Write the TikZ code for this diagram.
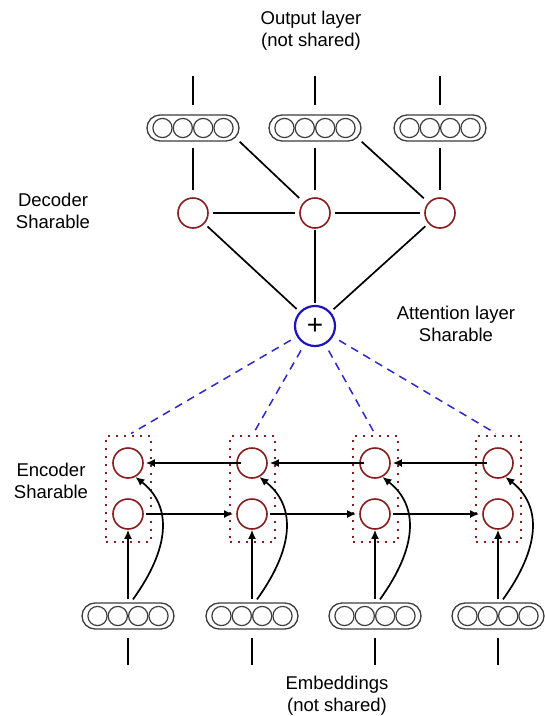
\documentclass[tikz,border=0pt]{standalone}
\usepackage{fontspec}
\setmainfont{Liberation Sans}
\usetikzlibrary{arrows.meta}
\definecolor{dred}{RGB}{135,30,30}
\definecolor{attblue}{RGB}{30,20,190}
\definecolor{dashblue}{RGB}{45,40,200}
\definecolor{vecgray}{RGB}{60,60,60}
\newcommand{\vecunits}[1]{%
  \foreach \dx in {-30.5,-10.2,10.2,30.5}{\draw[vecgray,line width=1.2pt] ([xshift=\dx pt]#1.center) circle[radius=9.6pt];}}
\begin{document}
\begin{tikzpicture}[x=1pt,y=-1pt,
  lbl/.style={align=center,font=\fontsize{18.5}{22}\selectfont},
  vecbox/.style={draw=vecgray,line width=1.3pt,rounded corners=13pt,minimum width=92pt,minimum height=26pt,inner sep=0pt},
  unit/.style={circle,draw=dred,line width=1.6pt,minimum size=30pt,inner sep=0pt},
  encbox/.style={draw=dred,line width=2pt,dash pattern=on 2pt off 6pt,minimum width=45pt,minimum height=106pt,inner sep=0pt},
  conn/.style={line width=1.7pt,shorten <=4pt,shorten >=4pt},
  arr/.style={line width=1.7pt,-{Latex[length=9pt,width=8pt]}},
  att/.style={circle,draw=attblue,line width=2.2pt,minimum size=40pt,inner sep=0pt,font=\fontsize{28}{28}\selectfont},
  dsh/.style={draw=dashblue,line width=1.5pt,dash pattern=on 8pt off 6pt,shorten <=7pt,shorten >=3pt}]
\useasboundingbox (0,0) rectangle (545,716);

% labels
\node[lbl] (lout) at (311,31) {Output layer\\(not shared)};
\node[lbl] (ldec) at (53,211) {Decoder\\Sharable};
\node[lbl] (latt) at (456,324) {Attention layer\\Sharable};
\node[lbl] (lenc) at (51,481) {Encoder\\Sharable};
\node[lbl] (lemb) at (337,696) {Embeddings\\(not shared)};

% output vectors
\node[vecbox] (o1) at (193,128) {}; \vecunits{o1}
\node[vecbox] (o2) at (315,128) {}; \vecunits{o2}
\node[vecbox] (o3) at (440,128) {}; \vecunits{o3}
\coordinate (o1t) at (193,76);
\coordinate (o2t) at (315,76);
\coordinate (o3t) at (440,76);
\foreach \i in {1,2,3}{\draw[line width=1.7pt,shorten >=9pt] (o\i t) -- (o\i);}

% decoder
\node[unit] (d1) at (193,213) {};
\node[unit] (d2) at (315,213) {};
\node[unit] (d3) at (440,213) {};
\foreach \i in {1,2,3}{\draw[conn,shorten <=6pt,shorten >=7pt] (o\i) -- (d\i);}
\draw[line width=1.7pt,shorten >=6pt] (o1.south east) -- (d2);
\draw[line width=1.7pt,shorten >=6pt] (o2.south east) -- (d3);
\draw[conn] (d1) -- (d2);
\draw[conn] (d2) -- (d3);

% attention
\node[att] (a) at (315,326) {+};
\draw[conn] (d1) -- (a);
\draw[conn,shorten <=1pt,shorten >=2pt] (d2) -- (a);
\draw[conn] (d3) -- (a);

% encoder
\foreach \i/\x in {1/128,2/252,3/375,4/498}{
  \node[encbox] (bx\i) at (\x+0.5,489) {};
  \node[unit] (t\i) at (\x,463) {};
  \node[unit] (b\i) at (\x,514) {};
  \node[vecbox] (e\i) at (\x,616) {};
  \vecunits{e\i}
  \coordinate (e\i b) at (\x,665);
  \draw[line width=1.7pt,shorten <=8pt] (e\i) -- (e\i b);
  \draw[arr,shorten <=3pt] (e\i.north) -- (b\i.south);
  \draw[arr] ([xshift=5pt,yshift=3pt]e\i.north) .. controls +(36,-50) and +(38,30) .. (t\i.-62);
  \draw[dsh] (a) -- (bx\i.north);
}
\foreach \i/\j in {1/2,2/3,3/4}{
  \draw[arr,shorten <=-5pt,shorten >=2pt] (t\j) -- (t\i);
  \draw[arr,shorten <=2pt,shorten >=3pt] (b\i) -- (b\j);
}
\end{tikzpicture}
\end{document}
